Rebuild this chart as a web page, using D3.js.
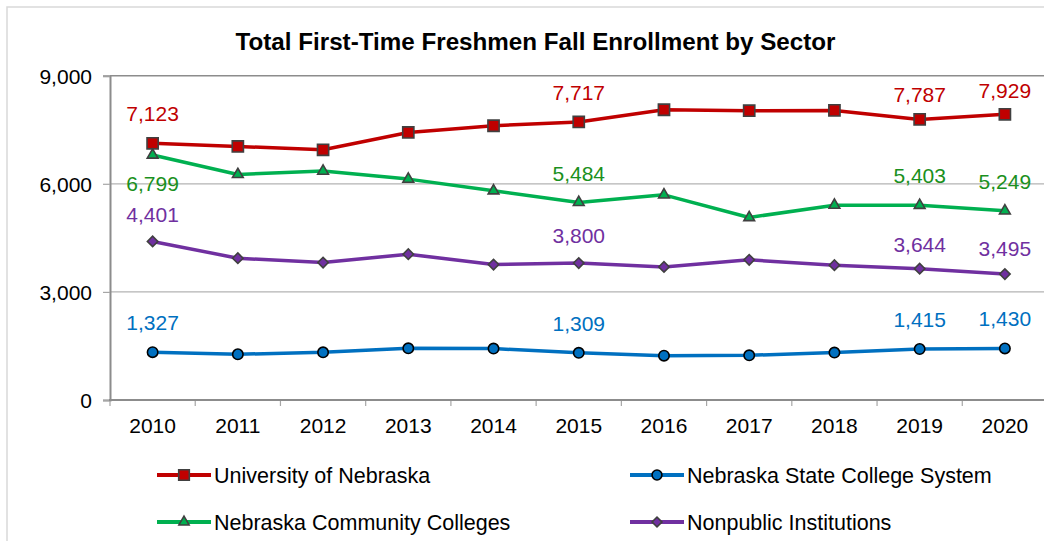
<!DOCTYPE html>
<html>
<head>
<meta charset="utf-8">
<script src="https://cdn.jsdelivr.net/npm/d3@7"></script>
<style>
  html, body { margin: 0; padding: 0; background: #fff; }
  svg { display: block; font-family: "Liberation Sans", Arial, sans-serif; }
</style>
</head>
<body>
<div id="chart"></div>
<script>
'use strict';

/*****************************Chart data***********************************/

var years = ["2010", "2011", "2012", "2013", "2014", "2015", "2016", "2017", "2018", "2019", "2020"];
var universityOfNebraska = [7123, 7036, 6944, 7426, 7611, 7717, 8055, 8028, 8037, 7787, 7929];
var stateCollegeSystem = [1327, 1269, 1324, 1435, 1426, 1309, 1231, 1241, 1315, 1415, 1430];
var communityColleges = [6799, 6259, 6352, 6130, 5806, 5484, 5694, 5065, 5407, 5403, 5249];
var nonpublicInstitutions = [4401, 3935, 3815, 4046, 3759, 3800, 3694, 3889, 3741, 3644, 3495];
var yTicks = [0, 3000, 6000, 9000];
var labelledYears = ["2010", "2015", "2019", "2020"];

/***************************Series settings********************************/

var series = [
  { name: "University of Nebraska", values: universityOfNebraska, color: "#c00000", textColor: "#c00000",
    marker: "square", outline: "#404040", legendX: 157, legendY: 475,
    labelDy: { "2010": -22, "2015": -22, "2019": -17, "2020": -16 } },
  { name: "Nebraska State College System", values: stateCollegeSystem, color: "#0070c0", textColor: "#0070c0",
    marker: "circle", outline: "#000000", legendX: 630, legendY: 475,
    labelDy: { "2010": -22, "2015": -22, "2019": -22, "2020": -22 } },
  { name: "Nebraska Community Colleges", values: communityColleges, color: "#00b050", textColor: "#1a9020",
    marker: "triangle", outline: "#404040", legendX: 157, legendY: 522,
    labelDy: { "2010": 36, "2015": -21, "2019": -22, "2020": -22 } },
  { name: "Nonpublic Institutions", values: nonpublicInstitutions, color: "#7030a0", textColor: "#7030a0",
    marker: "diamond", outline: "#404040", legendX: 630, legendY: 522,
    labelDy: { "2010": -19, "2015": -20, "2019": -17, "2020": -18 } }
];

/*****************************Dimensions***********************************/

var width = 1044;
var height = 541;
var plotLeft = 110;
var plotRight = 1047.5;
var plotTop = 75.7;
var plotBottom = 400;

var svg = d3.select("#chart").append("svg")
  .attr("width", width)
  .attr("height", height);

// chart frame (cropped on the right and bottom like the picture)
svg.append("rect")
  .attr("x", 7).attr("y", 7)
  .attr("width", 1200).attr("height", 800)
  .style("fill", "none")
  .style("stroke", "#d9d9d9")
  .style("stroke-width", 1.5);

svg.append("text")
  .attr("x", 535.5).attr("y", 49.5)
  .attr("text-anchor", "middle")
  .style("font-size", "24.2px")
  .style("font-weight", "bold")
  .style("fill", "#000")
  .text("Total First-Time Freshmen Fall Enrollment by Sector");

/*******************************Scales*************************************/

var x = d3.scaleBand().domain(years).range([plotLeft, plotRight]);
var y = d3.scaleLinear().domain([0, 9000]).range([plotBottom, plotTop]);
var cx = function(year) { return x(year) + x.bandwidth() / 2; };

/****************************Grid and axes*********************************/

var grid = svg.append("g").attr("class", "grid");
grid.selectAll("line")
  .data(yTicks.filter(function(d) { return d > 0; }))
  .enter().append("line")
  .attr("x1", plotLeft).attr("x2", width)
  .attr("y1", function(d) { return y(d); })
  .attr("y2", function(d) { return y(d); })
  .style("stroke", function(d) { return d === 9000 ? "#8c8c8c" : "#b3b3b3"; })
  .style("stroke-width", function(d) { return d === 9000 ? 1.5 : 1.2; });

var yAxis = svg.append("g")
  .attr("transform", "translate(" + plotLeft + ",0)")
  .call(d3.axisLeft(y).tickValues(yTicks).tickSize(7).tickPadding(11).tickFormat(d3.format(",")));
yAxis.select(".domain").style("stroke", "#8c8c8c").style("stroke-width", 2);
yAxis.selectAll(".tick line").style("stroke", "#a6a6a6").style("stroke-width", 1.2);
yAxis.selectAll(".tick text").style("font-size", "21px").style("fill", "#000")
  .attr("dy", "0.35em");

var xAxis = svg.append("g")
  .attr("transform", "translate(0," + plotBottom + ")")
  .call(d3.axisBottom(x).tickSize(0).tickPadding(0));
xAxis.select(".domain").remove();
xAxis.selectAll(".tick text")
  .style("font-size", "21px").style("fill", "#000")
  .attr("y", 32.7).attr("dy", 0);

// category boundary ticks
svg.append("g").selectAll("line")
  .data(years.concat(["end"]))
  .enter().append("line")
  .attr("x1", function(d, i) { return plotLeft + i * x.bandwidth(); })
  .attr("x2", function(d, i) { return plotLeft + i * x.bandwidth(); })
  .attr("y1", plotBottom).attr("y2", plotBottom + 6)
  .style("stroke", "#a6a6a6").style("stroke-width", 1.2);

svg.append("line")
  .attr("x1", plotLeft - 1).attr("x2", width)
  .attr("y1", plotBottom).attr("y2", plotBottom)
  .style("stroke", "#8c8c8c").style("stroke-width", 2);

/******************************Markers*************************************/

var markerPath = function(type, scale) {
  var k = scale || 1;
  switch (type) {
    case "square":   return d3.symbol().type(d3.symbolSquare).size(125 * k)();
    case "circle":   return d3.symbol().type(d3.symbolCircle).size(85 * k)();
    case "triangle": return d3.symbol().type(d3.symbolTriangle).size(50 * k)();
    case "diamond":  return d3.symbol().type(d3.symbolSquare).size(55 * k)();
    default:         return null;
  }
};

var line = d3.line()
  .x(function(d) { return cx(d.year); })
  .y(function(d) { return y(d.value); });

series.forEach(function(s) {
  var points = years.map(function(year, i) { return { year: year, value: s.values[i] }; });
  var g = svg.append("g").attr("class", "series");

  g.append("path")
    .datum(points)
    .attr("d", line)
    .style("fill", "none")
    .style("stroke", s.color)
    .style("stroke-width", 3.5)
    .style("stroke-linejoin", "round");

  g.selectAll(".marker")
    .data(points)
    .enter().append("path")
    .attr("class", "marker")
    .attr("d", markerPath(s.marker))
    .attr("transform", function(d) {
      return "translate(" + cx(d.year) + "," + y(d.value) + ")" + (s.marker === "diamond" ? " rotate(45)" : "");
    })
    .style("fill", s.color)
    .style("stroke", s.outline)
    .style("stroke-width", 1.6);

  g.selectAll(".label")
    .data(points.filter(function(d) { return labelledYears.indexOf(d.year) >= 0; }))
    .enter().append("text")
    .attr("class", "label")
    .attr("x", function(d) { return cx(d.year); })
    .attr("y", function(d) { return y(d.value) + s.labelDy[d.year]; })
    .attr("text-anchor", "middle")
    .style("font-size", "21px")
    .style("fill", s.textColor)
    .text(function(d) { return d3.format(",")(d.value); });

  /******************************Legend*************************************/

  var lg = svg.append("g").attr("transform", "translate(" + s.legendX + "," + s.legendY + ")");
  lg.append("line")
    .attr("x1", 0).attr("x2", 54).attr("y1", 0).attr("y2", 0)
    .style("stroke", s.color).style("stroke-width", 4);
  lg.append("path")
    .attr("d", markerPath(s.marker, 0.9))
    .attr("transform", "translate(27,0)" + (s.marker === "diamond" ? " rotate(45)" : ""))
    .style("fill", s.color)
    .style("stroke", s.outline)
    .style("stroke-width", 1.6);
  lg.append("text")
    .attr("x", 57).attr("y", 0).attr("dy", "0.35em")
    .style("font-size", "21.5px")
    .style("fill", "#000")
    .text(s.name);
});
</script>
</body>
</html>
